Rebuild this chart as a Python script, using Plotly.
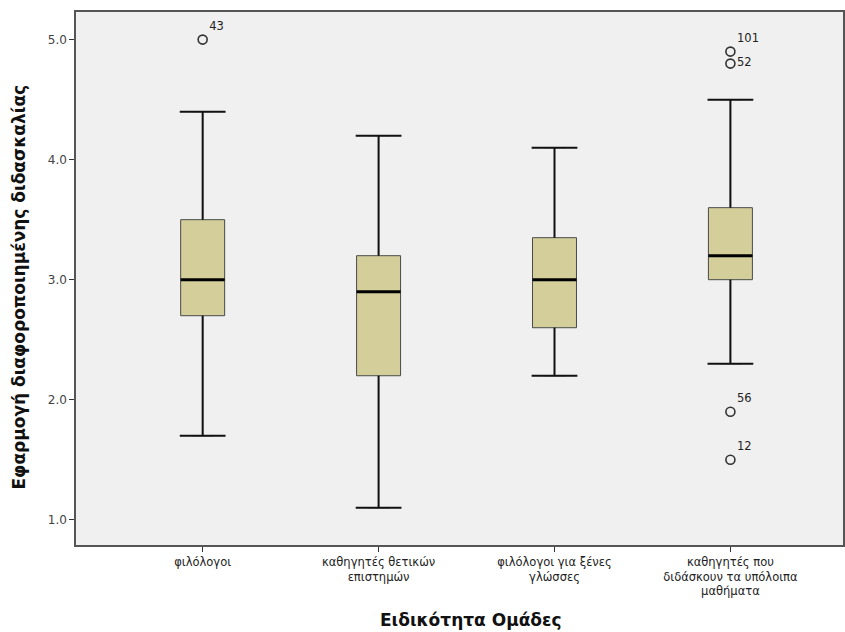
import plotly.graph_objects as go

categories = ["φιλόλογοι", "καθηγητές θετικών<br>επιστημών", "φιλόλογοι για ξένες<br>γλώσσες",
              "καθηγητές που<br>διδάσκουν τα υπόλοιπα<br>μαθήματα"]
q1 = [2.7, 2.2, 2.6, 3.0]
median = [3.0, 2.9, 3.0, 3.2]
q3 = [3.5, 3.2, 3.35, 3.6]
lower_whisker = [1.7, 1.1, 2.2, 2.3]
upper_whisker = [4.4, 4.2, 4.1, 4.5]

outlier_group = [0, 3, 3, 3, 3]
outlier_value = [5.0, 4.9, 4.8, 1.9, 1.5]
outlier_label = ["43", "101", "52", "56", "12"]
outlier_textpos = ["top right", "top right", "middle right", "top right", "top right"]

y_ticks = [1.0, 2.0, 3.0, 4.0, 5.0]

x_title = "Ειδικότητα Ομάδες"
y_title = "Εφαρμογή διαφοροποιημένης διδασκαλίας"

pos = list(range(len(categories)))
box_w = 0.25
cap_w = 0.13
FONT = "DejaVu Sans, Verdana, sans-serif"

fig = go.Figure()

fig.add_trace(go.Box(
    x=pos, q1=q1, median=median, q3=q3,
    lowerfence=lower_whisker, upperfence=upper_whisker,
    width=box_w, fillcolor="#D3CE9A", line=dict(color="#4a4a4a", width=1),
    boxpoints=False, showlegend=False, hoverinfo="skip",
))

# whiskers
wx, wy = [], []
for i in pos:
    wx += [i, i, None, i, i, None]
    wy += [lower_whisker[i], q1[i], None, q3[i], upper_whisker[i], None]
fig.add_trace(go.Scatter(x=wx, y=wy, mode="lines", line=dict(color="#111", width=2),
                         showlegend=False, hoverinfo="skip"))
# caps
cx, cy = [], []
for i in pos:
    cx += [i - cap_w, i + cap_w, None, i - cap_w, i + cap_w, None]
    cy += [lower_whisker[i], lower_whisker[i], None, upper_whisker[i], upper_whisker[i], None]
fig.add_trace(go.Scatter(x=cx, y=cy, mode="lines", line=dict(color="#111", width=2),
                         showlegend=False, hoverinfo="skip"))
# medians
mx, my = [], []
for i in pos:
    mx += [i - box_w / 2, i + box_w / 2, None]
    my += [median[i], median[i], None]
fig.add_trace(go.Scatter(x=mx, y=my, mode="lines", line=dict(color="#000", width=3),
                         showlegend=False, hoverinfo="skip"))
# outliers
fig.add_trace(go.Scatter(
    x=outlier_group, y=outlier_value, mode="markers+text",
    marker=dict(symbol="circle-open", size=9, color="#333", line=dict(width=1.6, color="#333")),
    text=outlier_label, textposition=outlier_textpos,
    textfont=dict(family=FONT, size=11.5, color="#222"),
    showlegend=False, hoverinfo="skip",
))

fig.update_layout(
    width=845, height=632,
    margin=dict(l=76, r=2, t=12, b=87, autoexpand=False),
    paper_bgcolor="white", plot_bgcolor="#F0F0F0",
    font=dict(family=FONT, color="#222"),
    annotations=[
        dict(text="<b>" + x_title + "</b>", xref="paper", yref="paper", x=0.5, y=0,
             xanchor="center", yanchor="middle", xshift=11, yshift=-75, showarrow=False,
             font=dict(family=FONT, size=17, color="#111")),
        dict(text="<b>" + y_title + "</b>", xref="paper", yref="paper", x=0, y=0.5,
             xanchor="center", yanchor="middle", xshift=-58, yshift=-9, textangle=-90,
             showarrow=False, font=dict(family=FONT, size=17, color="#111")),
    ],
)
fig.update_xaxes(
    range=[-0.72, 3.64], tickvals=pos, ticktext=categories, automargin=False,
    ticks="outside", ticklen=5, tickcolor="#333", tickfont=dict(family=FONT, size=11.5, color="#222"),
    showgrid=False, zeroline=False, showline=True, linecolor="#555", linewidth=1.5, mirror=True,
)
fig.update_yaxes(
    range=[0.79, 5.23], tickvals=y_ticks, ticktext=[f"{v:.1f}" for v in y_ticks], automargin=False,
    ticks="outside", ticklen=5, tickcolor="#333", tickfont=dict(family=FONT, size=12, color="#444"),
    showgrid=False, zeroline=False, showline=True, linecolor="#555", linewidth=1.5, mirror=True,
)

fig.write_html("out.html", config={"displayModeBar": False},
               post_script="document.body.style.margin='0';")
